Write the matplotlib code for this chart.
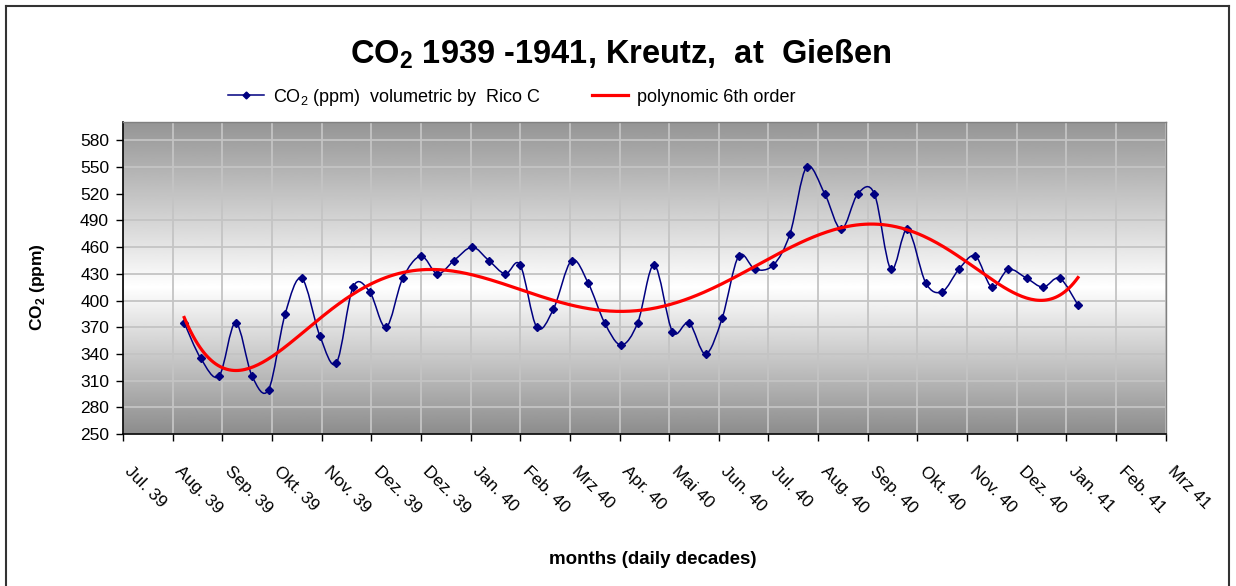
import datetime as dt
import numpy as np
import pandas as pd
import matplotlib
matplotlib.use("Agg")
import matplotlib.pyplot as plt
import matplotlib.dates as mdates
from matplotlib.path import Path
from matplotlib.patches import PathPatch
from matplotlib.lines import Line2D
from matplotlib.transforms import ScaledTranslation

plt.rcParams['font.family'] = ['Liberation Sans', 'DejaVu Sans']
plt.rcParams['mathtext.fontset'] = 'custom'
plt.rcParams['mathtext.rm'] = 'Liberation Sans'
plt.rcParams['mathtext.bf'] = 'Liberation Sans:bold'

# months covered by the measurements, three decades (10th, 20th, month end) each
months = pd.period_range('1939-08', '1941-01', freq='M')

# CO2 in ppm, one value per decade
co2 = [375, 335, 315, 375, 315, 300, 385, 425, 360,
       330, 415, 410, 370, 425, 450, 430, 445, 460,
       445, 430, 440, 370, 390, 445, 420, 375, 350,
       375, 440, 365, 375, 340, 380, 450, 435, 440,
       475, 550, 520, 480, 520, 520, 435, 480, 420,
       410, 435, 450, 415, 435, 425, 415, 425, 395]

month_names = ['Jan.', 'Feb.', 'Mrz', 'Apr.', 'Mai', 'Jun.',
               'Jul.', 'Aug.', 'Sep.', 'Okt.', 'Nov.', 'Dez.']

axis_start = dt.date(1939, 7, 4)
axis_end = dt.date(1941, 3, 25)

dates = []
for m in months:
    dates += [dt.date(m.year, m.month, 10), dt.date(m.year, m.month, 20),
              m.end_time.date()]

x = mdates.date2num(dates)
y = np.array(co2, dtype=float)

fig = plt.figure(figsize=(12.36, 5.86), dpi=100)
ax = fig.add_axes([0.0995, 0.2594, 0.8436, 0.5329])

# gray -> white -> gray background
grad = np.interp(np.linspace(0, 1, 400), [0, 0.47, 1], [0.55, 1.0, 0.58])
ax.imshow(grad[:, None], cmap='gray', vmin=0, vmax=1, origin='lower',
          extent=[0, 1, 0, 1], transform=ax.transAxes, aspect='auto', zorder=0)

# smoothed data line (Bezier like the spreadsheet's smoothed line)
P = np.column_stack([x, y])
n = len(P)
verts = [P[0]]
codes = [Path.MOVETO]
for i in range(n - 1):
    p0 = P[max(i - 1, 0)]
    p1 = P[i]
    p2 = P[i + 1]
    p3 = P[min(i + 2, n - 1)]
    verts += [p1 + (p2 - p0) / 6, p2 - (p3 - p1) / 6, p2]
    codes += [Path.CURVE4] * 3
ax.add_patch(PathPatch(Path(verts, codes), facecolor='none',
                       edgecolor='#000080', lw=1.1, zorder=3))
ax.plot(dates, co2, linestyle='none', marker='D', ms=4.2, color='#000080', zorder=4)

# polynomial trend, 6th order
xm, xsd = x.mean(), x.std()
coef = np.polyfit((x - xm) / xsd, y, 6)
xs = np.linspace(x[0], x[-1], 400)
ax.plot(xs, np.polyval(coef, (xs - xm) / xsd), color='#ff0000', lw=2.3, zorder=5)

ax.set_xlim(mdates.date2num(axis_start), mdates.date2num(axis_end))
ax.set_ylim(250, 601)
ax.set_yticks(np.arange(250, 581, 30))
ticks = [mdates.date2num(axis_start) + 30 * k for k in range(22)]
ax.set_xticks(ticks)
ax.set_xticklabels([month_names[d.month - 1] + ' ' + d.strftime('%y')
                    for d in mdates.num2date(ticks)],
                   rotation=-45, ha='left', va='top', rotation_mode='anchor')
ax.grid(True, color='#c4c4c4', lw=1.3, zorder=1)
ax.set_axisbelow(True)
ax.tick_params(axis='both', direction='out', length=5, width=1, labelsize=12.5, color='black')
ax.tick_params(axis='y', pad=5)
ax.tick_params(axis='x', pad=16)
offset = ScaledTranslation(0.10, 0, fig.dpi_scale_trans)
for lab in ax.get_xticklabels():
    lab.set_transform(lab.get_transform() + offset)

for s in ['left', 'bottom']:
    ax.spines[s].set_color('black')
    ax.spines[s].set_linewidth(1.2)
for s in ['top', 'right']:
    ax.spines[s].set_color('#808080')
    ax.spines[s].set_linewidth(1)

ax.set_ylabel(r'CO$_\mathbf{2}$ (ppm)', fontsize=12.5, fontweight='bold')
ax.yaxis.set_label_coords(-0.073, 0.47)
ax.set_xlabel('months (daily decades)', fontsize=13.5, fontweight='bold')
ax.xaxis.set_label_coords(0.508, -0.375)

fig.text(0.5025, 0.908, r'CO$_\mathbf{2}$ 1939 -1941, Kreutz,  at  Gießen',
         ha='center', va='center', fontsize=23.5, fontweight='bold')

handles = [Line2D([], [], color='#000080', lw=1.1, marker='D', ms=3.5),
           Line2D([], [], color='#ff0000', lw=2.3)]
labels = [r'CO$_2$ (ppm)  volumetric by  Rico C', 'polynomic 6th order']
ax.legend(handles, labels, ncol=2, loc='center', bbox_to_anchor=(0.414, 0.834),
          bbox_transform=fig.transFigure, frameon=False, fontsize=13,
          handlelength=2.0, columnspacing=2.8, handletextpad=0.5)

# outer frame of the chart
for xs_, ys_ in [([0.005, 0.005], [0, 0.99]), ([0.005, 0.9945], [0.99, 0.99]),
                 ([0.9945, 0.9945], [0, 0.99])]:
    fig.add_artist(Line2D(xs_, ys_, color='#333333', lw=1.5, transform=fig.transFigure))

fig.savefig('out.png', dpi=100)
